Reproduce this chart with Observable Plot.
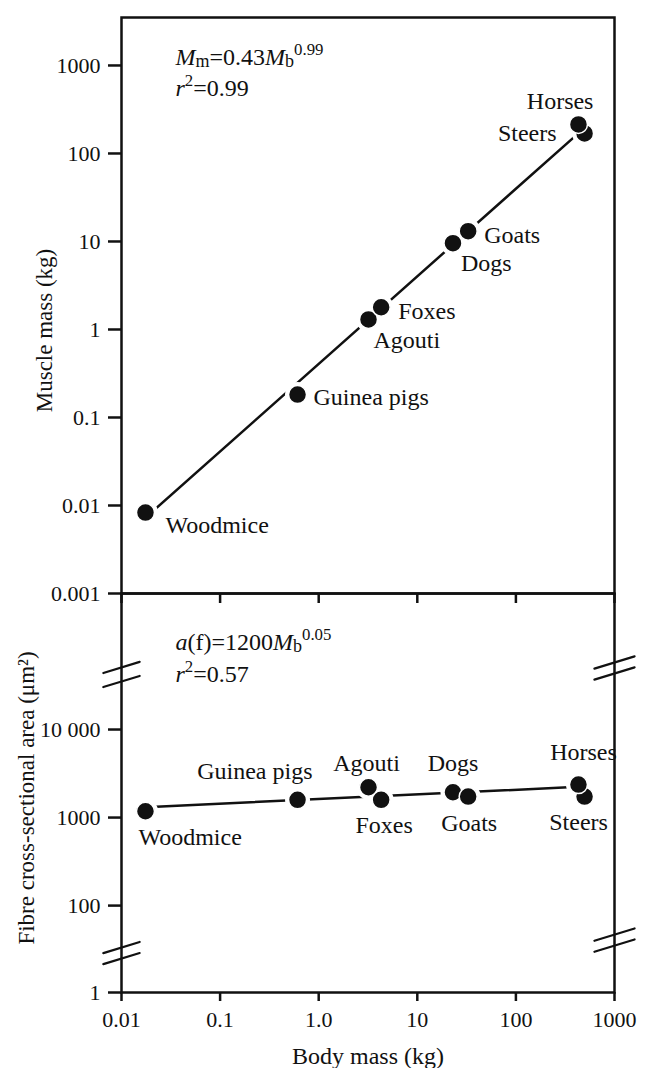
<!DOCTYPE html>
<html><head><meta charset="utf-8">
<script src="https://cdn.jsdelivr.net/npm/d3@7"></script>
<script src="https://cdn.jsdelivr.net/npm/@observablehq/plot@0.6"></script>
<style>
html,body{margin:0;padding:0;background:#fff;}
#chart{position:relative;width:647px;height:1068px;}
#chart svg{position:absolute;left:0;top:0;}
#chart svg, #chart text, #chart tspan{font-family:"Liberation Serif","Times New Roman",serif;}
</style></head><body><div id="chart"></div>
<script>
// ---- data ----
const species    = ["Woodmice","Guinea pigs","Agouti","Foxes","Dogs","Goats","Steers","Horses"];
const bodyMass   = [0.0175, 0.61, 3.2, 4.3, 23, 32.8, 497, 431];      // kg
const muscleMass = [0.0083, 0.182, 1.30, 1.79, 9.57, 13.1, 169, 214]; // kg
const fibreArea  = [1180, 1590, 2210, 1590, 1940, 1730, 1730, 2370];  // µm²

const fitMuscleBody = [0.0175, 421];
const fitMuscle     = [0.00726, 166];
const fitFibreBody  = [0.0175, 431];
const fitFibre      = [1313, 2233];

const xTicks      = [0.01, 0.1, 1, 10, 100, 1000];
const xTickLabels = ["0.01", "0.1", "1.0", "10", "100", "1000"];
const muscleTicks      = [0.001, 0.01, 0.1, 1, 10, 100, 1000];
const muscleTickLabels = ["0.001", "0.01", "0.1", "1", "10", "100", "1000"];
const fibreFloor = 10.3; // broken axis: the "1" tick sits at the bottom of the frame
const fibreTicks      = [fibreFloor, 100, 1000, 10000];
const fibreTickLabels = ["1", "100", "1000", "10 000"];
const fibreBreaksLeft  = [50700, 35100, 33.4, 25.0];
const fibreBreaksRight = [57700, 43300, 46.8, 35.1];

const muscleEq = [[["M","i"],["m","sub"],["=0.43"],["M","i"],["b","sub"],["0.99","sup"]], [["r","i"],["2","sup"],["=0.99"]]];
const fibreEq  = [[["a","i"],["(f)=1200"],["M","i"],["b","sub"],["0.05","sup"]], [["r","i"],["2","sup"],["=0.57"]]];

// ---- layout (not data) ----
const topPlace = {
  "Woodmice": ["start", 20, 13], "Guinea pigs": ["start", 16, 3], "Agouti": ["start", 5, 21],
  "Foxes": ["start", 17, 4], "Dogs": ["start", 8, 20], "Goats": ["start", 16, 4],
  "Steers": ["end", -28, 0], "Horses": ["end", 15, -23]
};
const botPlace = {
  "Woodmice": ["start", -7, 26], "Guinea pigs": ["end", 15, -29], "Agouti": ["middle", -2, -24],
  "Foxes": ["middle", 3, 25], "Dogs": ["middle", 0, -29], "Goats": ["middle", 1, 27],
  "Steers": ["middle", -6, 26], "Horses": ["middle", 5, -32]
};

const ink = "#111";
const font = "Liberation Serif";
const labelSize = 24, tickSize = 22;

const rows = species.map((s, i) => ({species: s, mb: bodyMass[i], mm: muscleMass[i], fa: fibreArea[i]}));
const fitTop = fitMuscleBody.map((x, i) => ({x, y: fitMuscle[i]}));
const fitBot = fitFibreBody.map((x, i) => ({x, y: fitFibre[i]}));
const muscleFmt = new Map(muscleTicks.map((t, i) => [t, muscleTickLabels[i]]));
const fibreFmt = new Map(fibreTicks.map((t, i) => [t, fibreTickLabels[i]]));
const xFmt = new Map(xTicks.map((t, i) => [t, xTickLabels[i]]));

const lineShape = {draw(ctx, l) { ctx.moveTo(0, 0); ctx.lineTo(0, -l); }};

function labelMarks(yKey, place) {
  return rows.map(d => {
    const [anchor, dx, dy] = place[d.species];
    return Plot.text([d], {x: "mb", y: yKey, text: "species", textAnchor: anchor, lineAnchor: "middle", dx, dy,
      fontSize: labelSize, fontFamily: font, fill: ink});
  });
}
function eqMarks(eq, cls, dys) {
  return eq.map((parts, k) => Plot.text([parts.map(p => p[0]).join("")], {
    text: d => d, frameAnchor: "top-left", textAnchor: "start", lineAnchor: "middle", dx: 54, dy: dys[k],
    fontSize: labelSize, fontFamily: font, fill: ink, className: `${cls}${k}`
  }));
}
function richify(svg, eq, cls) {
  eq.forEach((parts, k) => {
    const t = d3.select(svg).select(`g.${cls}${k} text`);
    t.text(null);
    let shift = 0;
    parts.forEach(([s, kind]) => {
      const ts = t.append("tspan").text(s);
      let target = 0;
      if (kind === "sup") { ts.attr("font-size", "70%"); target = -10; }
      else if (kind === "sub") { ts.attr("font-size", "75%"); target = 2; }
      else if (kind === "i") { ts.attr("font-style", "italic"); }
      ts.attr("dy", target - shift);
      shift = target;
    });
  });
}

const style = {background: "transparent", overflow: "visible", fontFamily: font, fontSize: "22px", color: ink};

const topPlot = Plot.plot({
  width: 647, height: 612, marginLeft: 121, marginRight: 33, marginTop: 17, marginBottom: 19,
  style,
  x: {type: "log", domain: [0.01, 1000], axis: null},
  y: {type: "log", domain: [0.001, 3508], axis: null},
  marks: [
    Plot.frame({stroke: ink, strokeWidth: 2.5}),
    Plot.axisY({ticks: muscleTicks, tickFormat: d => muscleFmt.get(d), tickSize: 13, tickPadding: 8,
      strokeWidth: 2.5, fontSize: tickSize, fontFamily: font, label: null}),
    Plot.axisX({ticks: xTicks, tickFormat: () => "", tickSize: 10, strokeWidth: 2.5, label: null}),
    Plot.line(fitTop, {x: "x", y: "y", stroke: ink, strokeWidth: 2.5}),
    Plot.dot(rows, {x: "mb", y: "mm", r: 12.5, fill: "white", stroke: null}),
    Plot.dot(rows, {x: "mb", y: "mm", r: 9, fill: ink, stroke: "white", strokeWidth: 1.5}),
    ...labelMarks("mm", topPlace),
    ...eqMarks(muscleEq, "meq", [40, 71]),
    Plot.text(["Muscle mass (kg)"], {text: d => d, frameAnchor: "left", rotate: -90, dx: -77, dy: 25,
      textAnchor: "middle", lineAnchor: "middle", fontSize: 23, fontFamily: font, fill: ink})
  ]
});

const botPlot = Plot.plot({
  width: 647, height: 1068, marginLeft: 121, marginRight: 33, marginTop: 593, marginBottom: 76,
  style,
  x: {type: "log", domain: [0.01, 1000], axis: null},
  y: {type: "log", domain: [fibreFloor, 350800], axis: null},
  marks: [
    Plot.frame({stroke: ink, strokeWidth: 2.5}),
    Plot.axisY({ticks: fibreTicks, tickFormat: d => fibreFmt.get(d), tickSize: 13, tickPadding: 8,
      strokeWidth: 2.5, fontSize: tickSize, fontFamily: font, label: null}),
    Plot.axisX({ticks: xTicks, tickFormat: d => xFmt.get(d), tickSize: 9, tickPadding: 10,
      strokeWidth: 2.5, fontSize: tickSize, fontFamily: font, label: null}),
    Plot.vector(fibreBreaksLeft, {x: () => 0.01, y: d => d, length: 38, rotate: 73, anchor: "middle",
      shape: lineShape, stroke: ink, strokeWidth: 2.2}),
    Plot.vector(fibreBreaksRight, {x: () => 1000, y: d => d, length: 42, rotate: 73, anchor: "middle",
      shape: lineShape, stroke: ink, strokeWidth: 2.2}),
    Plot.line(fitBot, {x: "x", y: "y", stroke: ink, strokeWidth: 2.5}),
    Plot.dot(rows, {x: "mb", y: "fa", r: 12.5, fill: "white", stroke: null}),
    Plot.dot(rows, {x: "mb", y: "fa", r: 9, fill: ink, stroke: "white", strokeWidth: 1.5}),
    ...labelMarks("fa", botPlace),
    ...eqMarks(fibreEq, "feq", [49, 81]),
    Plot.text(["Fibre cross-sectional area (μm²)"], {text: d => d, frameAnchor: "left", rotate: -90,
      dx: -95, dy: 5, textAnchor: "middle", lineAnchor: "middle", fontSize: 23, fontFamily: font, fill: ink}),
    Plot.text(["Body mass (kg)"], {text: d => d, frameAnchor: "bottom", dy: 64, textAnchor: "middle",
      lineAnchor: "middle", fontSize: labelSize, fontFamily: font, fill: ink})
  ]
});

richify(topPlot, muscleEq, "meq");
richify(botPlot, fibreEq, "feq");
const chart = document.getElementById("chart");
chart.appendChild(botPlot);
chart.appendChild(topPlot);
</script></body></html>
